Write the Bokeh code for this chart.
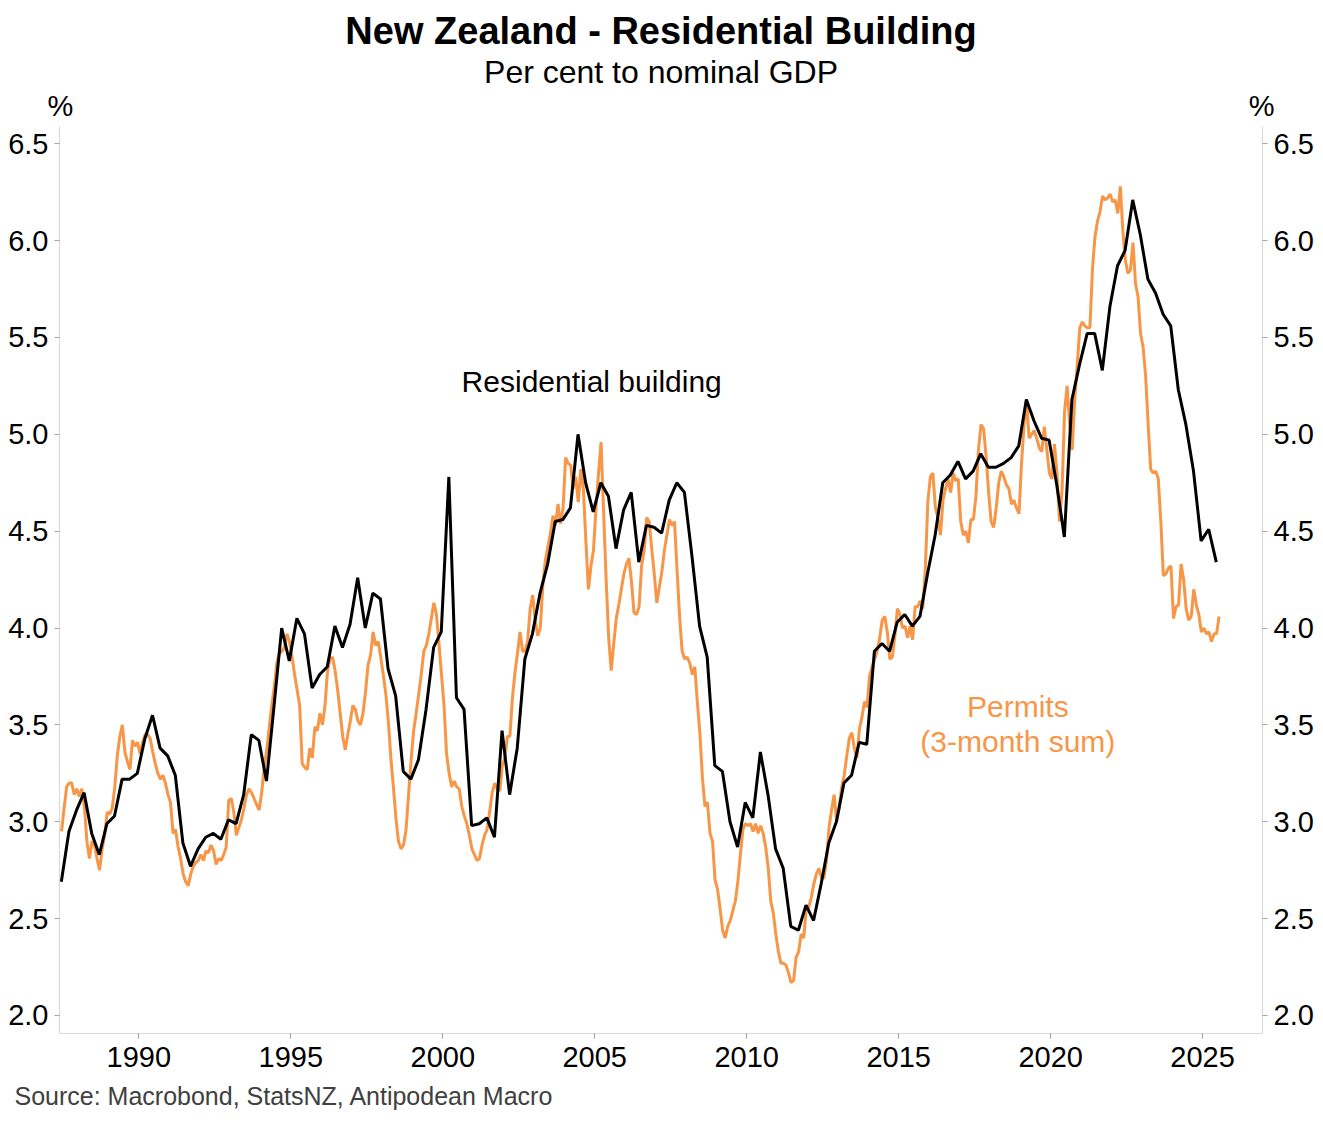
import numpy as np
from bokeh.plotting import figure
from bokeh.models import (Range1d, LinearAxis, FixedTicker, PrintfTickFormatter,
                          Label, Title, CustomJSTickFormatter)
from bokeh.embed import file_html
from bokeh.resources import INLINE

# ---------------- data ----------------
chart_title = "New Zealand - Residential Building"
chart_subtitle = "Per cent to nominal GDP"
source_note = "Source: Macrobond, StatsNZ, Antipodean Macro"
residential_label = "Residential building"
permits_label_1 = "Permits"
permits_label_2 = "(3-month sum)"
unit_label = "%"

# Residential building investment, % of nominal GDP (quarterly, first obs ~1987.45)
residential_start = 1987.45
residential = [
    2.69, 2.95, 3.06,
    3.15, 2.94, 2.83, 2.99,
    3.03, 3.22, 3.22, 3.25,
    3.43, 3.55, 3.38, 3.34,
    3.24, 2.89, 2.77, 2.86,
    2.92, 2.94, 2.91, 3.01,
    2.99, 3.14, 3.45, 3.42,
    3.21, 3.60, 4.00, 3.83,
    4.05, 3.97, 3.69, 3.76,
    3.80, 4.01, 3.90, 4.02,
    4.26, 4.00, 4.18, 4.15,
    3.79, 3.65, 3.26, 3.22,
    3.32, 3.58, 3.90, 3.98,
    4.78, 3.64, 3.58, 2.98,
    2.99, 3.02, 2.92, 3.47,
    3.14, 3.38, 3.84, 3.97,
    4.18, 4.33, 4.55, 4.56,
    4.62, 5.00, 4.75, 4.60,
    4.75, 4.68, 4.41, 4.61,
    4.70, 4.34, 4.53, 4.52,
    4.49, 4.66, 4.75, 4.70,
    4.37, 4.01, 3.85, 3.29,
    3.26, 3.00, 2.87, 3.10,
    3.02, 3.36, 3.14, 2.86,
    2.76, 2.46, 2.44, 2.57,
    2.49, 2.68, 2.89, 3.00,
    3.20, 3.24, 3.41, 3.40,
    3.88, 3.92, 3.88, 4.03,
    4.07, 4.01, 4.06, 4.28,
    4.48, 4.75, 4.79, 4.86,
    4.77, 4.81, 4.90, 4.83,
    4.83, 4.85, 4.88, 4.94,
    5.18, 5.07, 4.98, 4.97,
    4.74, 4.47, 5.18, 5.36,
    5.52, 5.52, 5.33, 5.66,
    5.87, 5.95, 6.21, 6.03,
    5.80, 5.73, 5.62, 5.56,
    5.23, 5.05, 4.81, 4.45,
    4.51, 4.34,
]

# Building permits (3-month sum), % of nominal GDP (monthly, from June 1987)
permits_start_year = 1987
permits_start_month = 6
permits = [
    2.95, 3.07, 3.18, 3.20, 3.20, 3.14, 3.17,
    3.13, 3.17, 3.08, 2.90, 2.81, 2.90, 2.88, 2.81, 2.75, 2.86, 2.93, 3.05,
    3.04, 3.07, 3.18, 3.34, 3.44, 3.50, 3.36, 3.31, 3.27, 3.42, 3.39, 3.41,
    3.35, 3.41, 3.45, 3.45, 3.43, 3.36, 3.30, 3.25, 3.22, 3.24, 3.20, 3.14,
    3.10, 2.94, 2.96, 2.87, 2.81, 2.73, 2.69, 2.67, 2.73, 2.77, 2.79, 2.80,
    2.83, 2.80, 2.85, 2.84, 2.88, 2.85, 2.78, 2.81, 2.80, 2.83, 2.87, 3.11,
    3.12, 3.05, 2.93, 2.97, 3.01, 3.07, 3.14, 3.17, 3.15, 3.12, 3.09, 3.06,
    3.15, 3.28, 3.37, 3.49, 3.60, 3.70, 3.82, 3.87, 3.88, 3.90, 3.97, 3.93,
    3.85, 3.76, 3.68, 3.60, 3.30, 3.28, 3.27, 3.38, 3.33, 3.49, 3.47, 3.56,
    3.50, 3.60, 3.78, 3.84, 3.85, 3.78, 3.68, 3.56, 3.44, 3.37, 3.45, 3.52,
    3.60, 3.58, 3.52, 3.50, 3.56, 3.67, 3.81, 3.86, 3.98, 3.91, 3.93, 3.85,
    3.76, 3.66, 3.52, 3.33, 3.18, 3.02, 2.90, 2.86, 2.88, 2.96, 3.14, 3.32,
    3.47, 3.56, 3.66, 3.76, 3.88, 3.91, 3.97, 4.05, 4.13, 4.07, 3.92, 3.76,
    3.60, 3.35, 3.25, 3.18, 3.21, 3.18, 3.17, 3.08, 3.03, 2.99, 2.93, 2.86,
    2.83, 2.80, 2.81, 2.88, 2.93, 2.96, 3.05, 3.15, 3.20, 3.17, 3.16, 3.29,
    3.33, 3.44, 3.44, 3.64, 3.77, 3.87, 3.98, 3.88, 3.88, 3.93, 4.10, 4.17,
    4.04, 3.96, 4.00, 4.22, 4.35, 4.42, 4.49, 4.58, 4.53, 4.64, 4.54, 4.62,
    4.88, 4.85, 4.84, 4.72, 4.78, 4.65, 4.82, 4.72, 4.45, 4.20, 4.32, 4.40,
    4.62, 4.80, 4.96, 4.60, 4.25, 3.95, 3.78, 3.92, 4.05, 4.12, 4.20, 4.28,
    4.33, 4.36, 4.24, 4.08, 4.07, 4.11, 4.32, 4.40, 4.57, 4.55, 4.41, 4.28,
    4.13, 4.21, 4.29, 4.40, 4.48, 4.56, 4.53, 4.55, 4.30, 4.06, 3.88, 3.84,
    3.85, 3.82, 3.76, 3.80, 3.62, 3.46, 3.23, 3.08, 3.10, 2.94, 2.90, 2.70,
    2.65, 2.55, 2.44, 2.40, 2.46, 2.49, 2.54, 2.59, 2.69, 2.83, 2.96, 2.99,
    2.98, 2.99, 2.95, 2.99, 2.94, 2.98, 2.94, 2.87, 2.76, 2.59, 2.53, 2.42,
    2.33, 2.27, 2.27, 2.26, 2.22, 2.17, 2.18, 2.30, 2.33, 2.42, 2.40, 2.55,
    2.56, 2.61, 2.68, 2.73, 2.76, 2.71, 2.71, 2.80, 2.97, 3.06, 3.14, 3.00,
    3.07, 3.18, 3.24, 3.34, 3.43, 3.46, 3.38, 3.33, 3.48, 3.54, 3.62, 3.59,
    3.75, 3.80, 3.84, 3.88, 3.95, 4.04, 4.06, 3.98, 3.84, 3.85, 3.96, 4.10,
    4.07, 4.00, 4.01, 3.95, 4.01, 3.94, 4.11, 4.11, 4.14, 4.10, 4.30, 4.65,
    4.78, 4.80, 4.62, 4.57, 4.48, 4.66, 4.72, 4.77, 4.70, 4.80, 4.76, 4.77,
    4.55, 4.48, 4.50, 4.44, 4.56, 4.56, 4.68, 4.92, 5.05, 5.03, 4.89, 4.70,
    4.55, 4.52, 4.62, 4.75, 4.81, 4.78, 4.74, 4.72, 4.64, 4.66, 4.62, 4.59,
    4.85, 5.05, 5.17, 4.98, 5.00, 5.02, 4.98, 4.93, 4.91, 5.04, 4.92, 4.80,
    4.77, 4.95, 4.80, 4.55, 4.71, 5.12, 5.25, 5.05, 4.92, 5.18, 5.36, 5.55,
    5.58, 5.56, 5.55, 5.55, 5.85, 6.02, 6.10, 6.15, 6.23, 6.21, 6.22, 6.24,
    6.20, 6.21, 6.14, 6.28, 6.05, 5.90, 5.83, 5.85, 5.99, 5.78, 5.71, 5.52,
    5.45, 5.30, 5.05, 4.82, 4.80, 4.81, 4.77, 4.55, 4.27, 4.28, 4.31, 4.32,
    4.05, 4.11, 4.12, 4.33, 4.25, 4.10, 4.04, 4.06, 4.20, 4.12, 4.07, 3.98,
    4.00, 3.97, 3.98, 3.93, 3.97, 3.97, 4.06,
]

x_ticks = [1990, 1995, 2000, 2005, 2010, 2015, 2020, 2025]
y_ticks = [2.0, 2.5, 3.0, 3.5, 4.0, 4.5, 5.0, 5.5, 6.0, 6.5]

# ---------------- derived x positions ----------------
res_x = residential_start + 0.25 * np.arange(len(residential))
m_idx = np.arange(len(permits)) + (permits_start_month - 1)
permits_x = permits_start_year + (m_idx + 0.5) / 12.0

# ---------------- styling ----------------
FONT = "Liberation Sans"
ORANGE = "#F79646"
X0, X1 = 1987.39, 2026.97
Y0, Y1 = 1.907, 6.589

p = figure(
    title=None,
    frame_width=1203, frame_height=907,
    x_range=Range1d(X0, X1), y_range=Range1d(Y0, Y1),
    output_backend="svg", toolbar_location=None,
    min_border_left=59, min_border_right=50,
    min_border_top=126, min_border_bottom=20,
    background_fill_color="white", border_fill_color="white",
    outline_line_color=None,
)
p.xgrid.visible = False
p.ygrid.visible = False

right_axis = LinearAxis()
p.add_layout(right_axis, "right")

for ax in p.yaxis:
    ax.ticker = FixedTicker(ticks=y_ticks)
    ax.formatter = PrintfTickFormatter(format="%.1f")
for ax in p.xaxis:
    ax.ticker = FixedTicker(ticks=x_ticks)

for ax in list(p.xaxis) + list(p.yaxis):
    ax.axis_line_color = "#D9D9D9"
    ax.axis_line_width = 1.2
    ax.major_tick_line_color = "#A6A6A6"
    ax.major_tick_line_width = 1.2
    ax.major_tick_out = 5
    ax.major_tick_in = 0
    ax.minor_tick_line_color = None
    ax.major_label_text_font = FONT
    ax.major_label_text_font_size = "29px"
    ax.major_label_text_color = "#000000"
    ax.major_label_standoff = 6
for ax in p.xaxis:
    ax.major_label_standoff = 8

# "%" unit labels above both value axes (an axis above with two ticks at the frame edges)
unit_axis = LinearAxis(
    ticker=FixedTicker(ticks=[X0 + 0.03, X1 - 0.03]),
    formatter=CustomJSTickFormatter(code="return '%s';" % unit_label),
    axis_line_color=None, major_tick_line_color=None, minor_tick_line_color=None,
    major_tick_in=0, major_tick_out=0, major_label_standoff=5,
    major_label_text_font=FONT, major_label_text_font_size="29px",
    major_label_text_color="#000000",
)
p.add_layout(unit_axis, "above")

p.add_layout(Title(text=chart_subtitle, align="center", text_font=FONT,
                   text_font_size="32px", text_font_style="normal",
                   text_color="#000000", standoff=-6), "above")
p.add_layout(Title(text=chart_title, align="center", text_font=FONT,
                   text_font_size="38px", text_font_style="bold",
                   text_color="#000000", standoff=6), "above")
p.add_layout(Title(text=source_note, align="left", offset=-45, text_font=FONT,
                   text_font_size="25px", text_font_style="normal",
                   text_color="#404040", standoff=20), "below")

p.line(permits_x, permits, line_color=ORANGE, line_width=3)
p.line(res_x, residential, line_color="#000000", line_width=3)

def add_label(x, y, text, color="#000000"):
    p.add_layout(Label(
        x=x, y=y, text=text, text_font=FONT, text_font_size="30px",
        text_color=color, text_align="center", text_baseline="middle",
    ))

add_label(2004.90, 5.272, residential_label)
add_label(2018.92, 3.594, permits_label_1, color=ORANGE)
add_label(2018.92, 3.413, permits_label_2, color=ORANGE)

open("out.html", "w").write(file_html(p, INLINE))
